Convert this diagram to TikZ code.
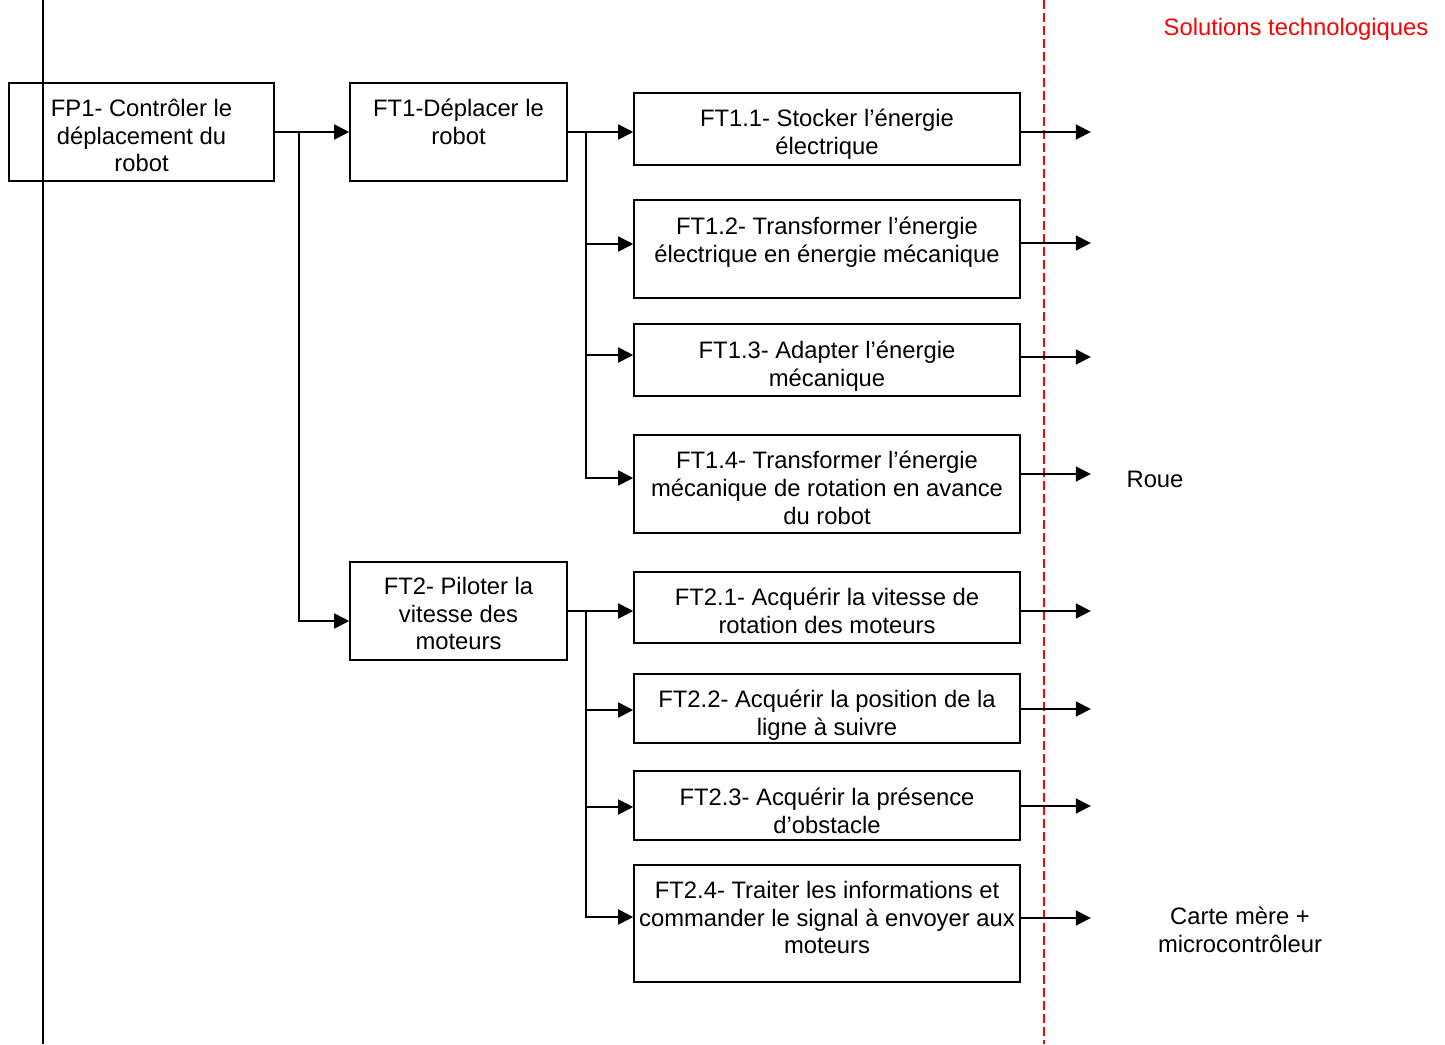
\documentclass[tikz,border=0pt]{standalone}
\usepackage{fontspec}
\setmainfont{Liberation Sans}
\usetikzlibrary{arrows.meta, calc}

\begin{document}
\begin{tikzpicture}[x=1pt, y=-1pt,
  bloc/.style={draw, line width=1.6pt, inner sep=0pt, minimum width=386pt},
  txt/.style={anchor=north, align=center, inner sep=0pt, font=\fontsize{23.8}{27.6}\selectfont},
  fleche/.style={line width=1.8pt, -{Triangle[length=15pt, width=15pt]}}]

\useasboundingbox (0,0) rectangle (1445,1044);

% Reperes verticaux
\draw[line width=2pt] (43,0) -- (43,1044);
\draw[red, line width=1.6pt, dash pattern=on 9pt off 4pt] (1044,0) -- (1044,1044);
\node[txt, anchor=center, red] (titre) at (1296,29) {Solutions technologiques};

% Fonction principale
\node[bloc, minimum width=265pt, minimum height=98pt] (fp1) at (141.5,132) {};
\node[txt] at ([yshift=-17pt]fp1.north) {FP1- Contrôler le\\déplacement du\\robot};

% Fonctions techniques niveau 1
\node[bloc, minimum width=217pt, minimum height=98pt] (ft1) at (458.5,132) {};
\node[txt] at ([yshift=-17pt]ft1.north) {FT1-Déplacer le\\robot};
\node[bloc, minimum width=217pt, minimum height=98pt] (ft2) at (458.5,611) {};
\node[txt] at ([yshift=-16pt]ft2.north) {FT2- Piloter la\\vitesse des\\moteurs};

% Sous-fonctions de FT1
\node[bloc, minimum height=72pt] (ft11) at (827,129) {};
\node[txt] at ([yshift=-17pt]ft11.north) {FT1.1- Stocker l’énergie\\électrique};
\node[bloc, minimum height=98pt] (ft12) at (827,249) {};
\node[txt] at ([yshift=-18pt]ft12.north) {FT1.2- Transformer l’énergie\\électrique en énergie mécanique};
\node[bloc, minimum height=72pt] (ft13) at (827,360) {};
\node[txt] at ([yshift=-18pt]ft13.north) {FT1.3- Adapter l’énergie\\mécanique};
\node[bloc, minimum height=98pt] (ft14) at (827,484) {};
\node[txt] at ([yshift=-17pt]ft14.north) {FT1.4- Transformer l’énergie\\mécanique de rotation en avance\\du robot};

% Sous-fonctions de FT2
\node[bloc, minimum height=71pt] (ft21) at (827,607.5) {};
\node[txt] at ([yshift=-17pt]ft21.north) {FT2.1- Acquérir la vitesse de\\rotation des moteurs};
\node[bloc, minimum height=69pt] (ft22) at (827,708.5) {};
\node[txt] at ([yshift=-17pt]ft22.north) {FT2.2- Acquérir la position de la\\ligne à suivre};
\node[bloc, minimum height=69pt] (ft23) at (827,805.5) {};
\node[txt] at ([yshift=-18pt]ft23.north) {FT2.3- Acquérir la présence\\d’obstacle};
\node[bloc, minimum height=117pt] (ft24) at (827,923.5) {};
\node[txt] at ([yshift=-17pt]ft24.north) {FT2.4- Traiter les informations et\\commander le signal à envoyer aux\\moteurs};

% Solutions
\node[txt, anchor=center] (roue) at (1155,479) {Roue};
\node[txt, anchor=center] (carte) at (1240,930) {Carte mère +\\microcontrôleur};

% Liaisons
\coordinate (b0) at ([xshift=24pt]fp1.east);
\coordinate (b1) at ([xshift=18pt]ft1.east);
\coordinate (b2) at ([xshift=18pt]ft2.east);
\draw[fleche] (fp1.east) -- (ft1.west);
\draw[fleche] (b0) |- ([yshift=-10pt]ft2.west);
\draw[fleche] (ft1.east) -- (ft1.east -| ft11.west);
\foreach \f/\d in {ft12/5, ft13/5, ft14/6}
  \draw[fleche] (b1) |- ([yshift=\d pt]\f.west);
\draw[fleche] (ft2.east) -- (ft2.east -| ft21.west);
\foreach \f/\d in {ft22/-1.5, ft23/-1.5, ft24/6.5}
  \draw[fleche] (b2) |- ([yshift=\d pt]\f.west);
\foreach \f/\d in {ft11/-3, ft12/6, ft13/3, ft14/10, ft21/-3.5, ft22/-0.5, ft23/-0.5, ft24/5.5}
  \draw[fleche] ([yshift=\d pt]\f.east) -- ++(70,0);

\end{tikzpicture}
\end{document}
